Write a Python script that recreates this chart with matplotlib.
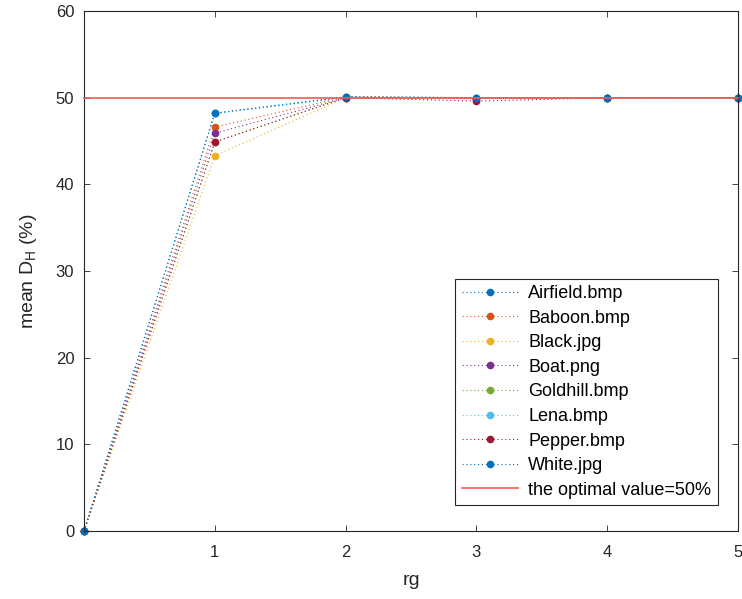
import matplotlib
matplotlib.use("Agg")
import matplotlib.pyplot as plt

plt.rcParams['font.family'] = ['Liberation Sans', 'DejaVu Sans']

rg = [0, 1, 2, 3, 4, 5]
names = ['Airfield.bmp', 'Baboon.bmp', 'Black.jpg', 'Boat.png',
         'Goldhill.bmp', 'Lena.bmp', 'Pepper.bmp', 'White.jpg']
airfield = [0, 48.2, 50.1, 50.0, 50.0, 50.0]
baboon   = [0, 46.6, 50.1, 50.0, 50.0, 50.0]
black    = [0, 43.3, 50.0, 49.9, 50.0, 50.0]
boat     = [0, 45.9, 50.0, 49.9, 50.0, 50.0]
goldhill = [0, 44.9, 50.0, 50.0, 50.0, 50.0]
lena     = [0, 48.2, 50.0, 50.0, 50.0, 50.0]
pepper   = [0, 44.9, 50.0, 49.6, 50.0, 50.0]
white    = [0, 48.2, 50.1, 50.0, 50.0, 50.0]
series = [airfield, baboon, black, boat, goldhill, lena, pepper, white]
colors = ['#0072BD', '#D95319', '#EDB120', '#7E2F8E', '#77AC30',
          '#4DBEEE', '#A2142F', '#0072BD']
optimal = 50

fig = plt.figure(figsize=(7.42, 5.99), dpi=100)
ax = fig.add_axes([0.1132, 0.1135, 0.8814, 0.8681])
dark = '#262626'
for name, vals, c in zip(names, series, colors):
    line, = ax.plot(rg, vals, linestyle=':', color=c, linewidth=0.8, marker='o',
                    markersize=5.5, markeredgewidth=0, label=name, clip_on=False)
    line.set_dashes([1, 2.5])
ax.axhline(optimal, color='#f45a5a', linewidth=1.2,
           label='the optimal value=50%', zorder=5, clip_on=False)

ax.set_xlim(0, 5)
ax.set_ylim(0, 60)
ax.set_xticks([1, 2, 3, 4, 5])
ax.set_yticks([0, 10, 20, 30, 40, 50, 60])
ax.tick_params(direction='in', labelsize=12, colors=dark, top=True, right=True,
               length=4, width=0.6)
ax.tick_params(axis='x', pad=10)
ax.tick_params(axis='y', pad=7)
for s in ax.spines.values():
    s.set_color(dark)
    s.set_linewidth(0.8)
ax.set_xlabel('rg', fontsize=14, color=dark, labelpad=9)
ax.set_ylabel(r'mean D$_{\mathregular{H}}$ (%)', fontsize=14, color=dark, labelpad=12)

leg = ax.legend(loc='lower right', bbox_to_anchor=(0.969, 0.05), borderaxespad=0,
                fontsize=13, fancybox=False, framealpha=1, edgecolor=dark,
                handlelength=3.1, handletextpad=0.6, labelspacing=0.42,
                borderpad=0.35)
leg.get_frame().set_linewidth(0.8)
for t in leg.get_texts():
    t.set_color('black')

fig.savefig('out.png', dpi=100)
